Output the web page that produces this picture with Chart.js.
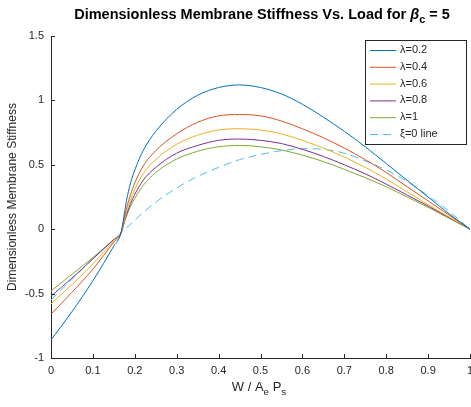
<!DOCTYPE html>
<html>
<head>
<meta charset="utf-8">
<script src="https://cdn.jsdelivr.net/npm/chart.js@4.4.0/dist/chart.umd.min.js"></script>
<style>
  html, body { margin: 0; padding: 0; background: #fff; }
</style>
</head>
<body>
<canvas id="grafico" width="471" height="407"></canvas>
<script>
// Carga adimensional (eje X)
const cargas = [0, 0.05, 0.1, 0.15, 0.167, 0.175, 0.18, 0.19, 0.2, 0.22, 0.25, 0.3, 0.35, 0.4, 0.45, 0.5, 0.55, 0.6, 0.65, 0.7, 0.75, 0.8, 0.85, 0.9, 0.95, 1];

// Rigidez para cada lambda
const rigidez02 = [-0.86, -0.64, -0.40, -0.13, -0.03, 0.12, 0.22, 0.36, 0.46, 0.61, 0.76, 0.93, 1.04, 1.10, 1.12, 1.10, 1.05, 0.97, 0.87, 0.76, 0.64, 0.51, 0.38, 0.25, 0.12, 0];
const rigidez04 = [-0.66, -0.49, -0.31, -0.10, -0.03, 0.09, 0.16, 0.27, 0.36, 0.49, 0.61, 0.74, 0.83, 0.88, 0.89, 0.88, 0.84, 0.78, 0.71, 0.63, 0.54, 0.44, 0.33, 0.22, 0.11, 0];
const rigidez06 = [-0.58, -0.43, -0.27, -0.09, -0.03, 0.07, 0.13, 0.23, 0.31, 0.43, 0.54, 0.66, 0.73, 0.77, 0.78, 0.77, 0.74, 0.69, 0.63, 0.56, 0.48, 0.39, 0.29, 0.19, 0.095, 0];
const rigidez08 = [-0.52, -0.38, -0.23, -0.08, -0.03, 0.06, 0.11, 0.20, 0.27, 0.38, 0.48, 0.59, 0.65, 0.69, 0.70, 0.69, 0.665, 0.62, 0.565, 0.50, 0.43, 0.35, 0.265, 0.18, 0.09, 0];
const rigidez10 = [-0.48, -0.35, -0.22, -0.08, -0.03, 0.05, 0.10, 0.18, 0.24, 0.34, 0.44, 0.545, 0.605, 0.64, 0.65, 0.64, 0.615, 0.575, 0.525, 0.465, 0.40, 0.33, 0.25, 0.17, 0.085, 0];
const rigidezXi = [-0.55, -0.39, -0.23, -0.08, -0.03, -0.005, 0.01, 0.04, 0.07, 0.13, 0.21, 0.32, 0.41, 0.48, 0.54, 0.58, 0.61, 0.625, 0.62, 0.59, 0.53, 0.46, 0.37, 0.26, 0.14, 0];

const etiquetas = ['\u03bb=0.2', '\u03bb=0.4', '\u03bb=0.6', '\u03bb=0.8', '\u03bb=1', '\u03be=0 line'];
const colores = ['#0072BD', '#D95319', '#EDB120', '#7E2F8E', '#77AC30', '#4DBEEE'];
const ticksX = [0, 0.1, 0.2, 0.3, 0.4, 0.5, 0.6, 0.7, 0.8, 0.9, 1];
const ticksY = [-1, -0.5, 0, 0.5, 1, 1.5];

const series = [rigidez02, rigidez04, rigidez06, rigidez08, rigidez10, rigidezXi];
const fuente = '"Liberation Sans", Arial, sans-serif';
const gris = '#262626';

const datasets = series.map((serie, i) => ({
    label: etiquetas[i],
    data: cargas.map((x, j) => ({ x: x, y: serie[j] })),
    borderColor: colores[i],
    borderWidth: 1,
    borderDash: i === 5 ? [8, 5] : [],
    pointRadius: 0,
    cubicInterpolationMode: 'monotone',
    fill: false
}));

// Texto con subindices: partes [texto, subindice?, cursiva?]
function textoCompuesto(ctx, partes, x, y, tam, peso) {
    let ancho = 0;
    partes.forEach(p => {
        const t = p[1] ? tam * 0.75 : tam;
        ctx.font = (p[2] ? 'italic ' : '') + peso + ' ' + t + 'px ' + fuente;
        ancho += ctx.measureText(p[0]).width;
    });
    let cx = x - ancho / 2;
    partes.forEach(p => {
        const t = p[1] ? tam * 0.75 : tam;
        ctx.font = (p[2] ? 'italic ' : '') + peso + ' ' + t + 'px ' + fuente;
        ctx.fillText(p[0], cx, p[1] ? y + tam * 0.3 : y);
        cx += ctx.measureText(p[0]).width;
    });
}

const extras = {
    id: 'extras',
    afterDraw(chart) {
        const ctx = chart.ctx;
        const area = chart.chartArea;
        const sx = chart.scales.x;
        const sy = chart.scales.y;
        ctx.save();
        // marcas hacia dentro
        ctx.strokeStyle = gris;
        ctx.lineWidth = 1;
        ctx.beginPath();
        ticksX.forEach(v => {
            const px = Math.round(sx.getPixelForValue(v)) + 0.5;
            ctx.moveTo(px, area.bottom);
            ctx.lineTo(px, area.bottom - 4);
        });
        ticksY.forEach(v => {
            const py = Math.round(sy.getPixelForValue(v)) + 0.5;
            ctx.moveTo(area.left, py);
            ctx.lineTo(area.left + 4, py);
        });
        ctx.stroke();

        // titulo
        ctx.fillStyle = '#000';
        ctx.textBaseline = 'alphabetic';
        ctx.textAlign = 'left';
        textoCompuesto(ctx, [['Dimensionless Membrane Stiffness Vs. Load for ', false, false], ['\u03b2', false, true], ['c', true, false], [' = 5', false, false]], 262, 19, 14.5, 'bold');

        // etiqueta eje X
        ctx.fillStyle = gris;
        textoCompuesto(ctx, [['W / A', false, false], ['e', true, false], [' P', false, false], ['s', true, false]], 259, 391, 13, 'normal');

        // etiqueta eje Y
        ctx.save();
        ctx.translate(16, 197);
        ctx.rotate(-Math.PI / 2);
        ctx.textAlign = 'center';
        ctx.font = '12px ' + fuente;
        ctx.fillText('Dimensionless Membrane Stiffness', 0, 0);
        ctx.restore();

        // leyenda
        const lx = 365, ly = 40, lw = 101, lh = 104;
        ctx.fillStyle = '#fff';
        ctx.fillRect(lx, ly, lw, lh);
        ctx.strokeStyle = gris;
        ctx.strokeRect(lx + 0.5, ly + 0.5, lw, lh);
        ctx.font = '11px ' + fuente;
        ctx.textBaseline = 'middle';
        chart.data.datasets.forEach((ds, i) => {
            const y = ly + 10 + i * 16.8;
            ctx.strokeStyle = ds.borderColor;
            ctx.setLineDash(ds.borderDash);
            ctx.beginPath();
            ctx.moveTo(lx + 5, y + 0.5);
            ctx.lineTo(lx + 31, y + 0.5);
            ctx.stroke();
            ctx.setLineDash([]);
            ctx.fillStyle = gris;
            ctx.fillText(ds.label, lx + 35, y);
        });
        ctx.restore();
    }
};

const config = {
    type: 'line',
    data: { datasets: datasets },
    options: {
        responsive: false,
        animation: false,
        devicePixelRatio: 1,
        layout: { padding: { top: 36, right: 1, left: 0, bottom: 0 } },
        plugins: { legend: { display: false }, tooltip: { enabled: false } },
        scales: {
            x: {
                type: 'linear',
                min: 0,
                max: 1,
                afterBuildTicks: s => { s.ticks = ticksX.map(v => ({ value: v })); },
                afterFit: s => { s.height = 49; s.paddingLeft = 0; s.paddingRight = 0; },
                grid: { display: false, drawTicks: false },
                border: { display: true, color: gris, width: 1 },
                ticks: { color: gris, font: { family: fuente, size: 11 }, padding: 6, maxRotation: 0, autoSkip: false, callback: v => String(v) }
            },
            y: {
                type: 'linear',
                min: -1,
                max: 1.5,
                afterBuildTicks: s => { s.ticks = ticksY.map(v => ({ value: v })); },
                afterFit: s => { s.width = 51; s.paddingTop = 0; s.paddingBottom = 0; },
                grid: { display: false, drawTicks: false },
                border: { display: true, color: gris, width: 1 },
                ticks: { color: gris, font: { family: fuente, size: 11 }, padding: 7, callback: v => String(v) }
            }
        }
    },
    plugins: [extras]
};

const ctx = document.getElementById('grafico').getContext('2d');
new Chart(ctx, config);
</script>
</body>
</html>
